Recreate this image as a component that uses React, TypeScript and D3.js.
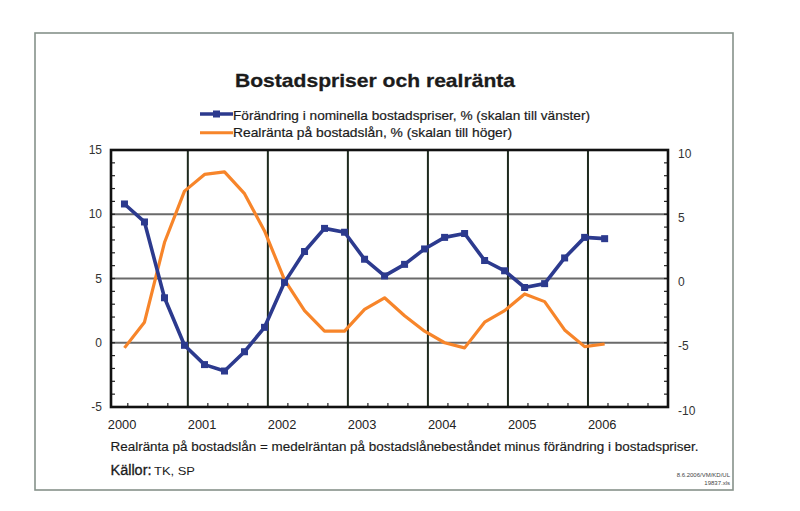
import React from "react";
import * as d3 from "d3";

const quarters = [
  "2000Q1","2000Q2","2000Q3","2000Q4",
  "2001Q1","2001Q2","2001Q3","2001Q4",
  "2002Q1","2002Q2","2002Q3","2002Q4",
  "2003Q1","2003Q2","2003Q3","2003Q4",
  "2004Q1","2004Q2","2004Q3","2004Q4",
  "2005Q1","2005Q2","2005Q3","2005Q4",
  "2006Q1",
];
// Förändring i nominella bostadspriser, % (left scale)
const housePriceChange = [
  10.8, 9.4, 3.5, -0.2,
  -1.7, -2.2, -0.7, 1.2,
  4.7, 7.1, 8.9, 8.6,
  6.5, 5.2, 6.1, 7.3,
  8.2, 8.5, 6.4, 5.6,
  4.3, 4.6, 6.6, 8.2,
  8.1,
];
// Realränta på bostadslån, % (right scale)
const realRate = [
  -5.4, -3.4, 2.8, 6.8,
  8.1, 8.3, 6.6, 3.7,
  -0.1, -2.5, -4.1, -4.1,
  -2.4, -1.5, -2.9, -4.1,
  -5.0, -5.4, -3.4, -2.5,
  -1.2, -1.8, -4.0, -5.3,
  -5.1,
];
const yearLabels = ["2000", "2001", "2002", "2003", "2004", "2005", "2006"];
const leftTicks = [15, 10, 5, 0, -5];
const rightTicks = [10, 5, 0, -5, -10];
const gridValues = [10, 5, 0];

const title = "Bostadspriser och realränta";
const legend1 = "Förändring i nominella bostadspriser, % (skalan till vänster)";
const legend2 = "Realränta på bostadslån, % (skalan till höger)";
const footnote =
  "Realränta på bostadslån = medelräntan på bostadslånebeståndet minus förändring i bostadspriser.";
const sourceLabel = "Källor:";
const sources = "TK, SP";
const stamp1 = "8.6.2006/VM/KD/UL";
const stamp2 = "19837.xls";

const BLUE = "#2c3a8e";
const ORANGE = "#f7852a";
const FONT = "'Liberation Sans', Arial, Helvetica, sans-serif";
const TEXT = "#1b1b1b";

function quarterTime(q: string) {
  const y = +q.slice(0, 4);
  const n = +q.slice(5);
  return y + (3 * n - 0.5) / 12;
}

export default function App() {
  const left = 111, right = 668, top = 150, bottom = 407;
  const x = d3.scaleLinear().domain([2000.04, 2007]).range([left, right]);
  const yL = d3.scaleLinear().domain([-5, 15]).range([bottom, top]);
  const yR = d3.scaleLinear().domain([-10, 10]).range([bottom, top]);

  const times = quarters.map(quarterTime);
  const blueLine = d3
    .line<number>()
    .x((_, i) => x(times[i]))
    .y((d) => yL(d))(housePriceChange) as string;
  const orangeLine = d3
    .line<number>()
    .x((_, i) => x(times[i]))
    .y((d) => yR(d))(realRate) as string;

  const minorLeft = d3.range(-4, 15);
  const minorRight = d3.range(-9, 10);
  const quarterTicks = d3
    .range(0, 28)
    .map((k) => 2000 + k * 0.25)
    .filter((t) => t > 2000.04 && k4(t));
  function k4(t: number) {
    return Math.abs(t - Math.round(t)) > 0.01;
  }
  const yearLines = d3.range(2001, 2007);

  return (
    <svg
      width={800}
      height={511}
      style={{ position: "absolute", left: 0, top: 0, background: "#fff" }}
      fontFamily={FONT}
    >
      <rect x={0} y={0} width={800} height={511} fill="#fff" />
      {/* outer frame */}
      <rect x={35} y={33} width={698} height={457} fill="none" stroke="#86928a" strokeWidth={1.6} />

      {/* title */}
      <text x={235} y={86.5} fontSize={19} fontWeight="bold" fill={TEXT} stroke={TEXT} strokeWidth={0.3} textLength={280} lengthAdjust="spacingAndGlyphs">
        {title}
      </text>

      {/* legend */}
      <line x1={200} x2={233} y1={114} y2={114} stroke={BLUE} strokeWidth={3.5} />
      <rect x={213} y={110.5} width={7} height={7} fill={BLUE} />
      <text x={233} y={119.5} fontSize={13} fill={TEXT} stroke={TEXT} strokeWidth={0.2} textLength={357} lengthAdjust="spacingAndGlyphs">
        {legend1}
      </text>
      <line x1={200} x2={233} y1={132.7} y2={132.7} stroke={ORANGE} strokeWidth={3} />
      <text x={233} y={137} fontSize={13} fill={TEXT} stroke={TEXT} strokeWidth={0.2} textLength={279} lengthAdjust="spacingAndGlyphs">
        {legend2}
      </text>

      {/* horizontal grid */}
      {gridValues.map((v) => (
        <line key={"g" + v} x1={left} x2={right} y1={yL(v)} y2={yL(v)} stroke="#6a6a6a" strokeWidth={1.8} />
      ))}
      {/* year lines */}
      {yearLines.map((yr) => (
        <line key={"v" + yr} x1={x(yr)} x2={x(yr)} y1={top} y2={bottom} stroke="#1d291d" strokeWidth={2} />
      ))}
      {/* minor ticks */}
      {minorLeft.map((v) => (
        <line key={"ml" + v} x1={left} x2={left + 4} y1={yL(v)} y2={yL(v)} stroke="#222" strokeWidth={1.2} />
      ))}
      {minorRight.map((v) => (
        <line key={"mr" + v} x1={right - 4} x2={right} y1={yR(v)} y2={yR(v)} stroke="#222" strokeWidth={1.2} />
      ))}
      {quarterTicks.map((t) => (
        <line key={"q" + t} x1={x(t)} x2={x(t)} y1={bottom - 4} y2={bottom} stroke="#222" strokeWidth={1.2} />
      ))}
      {/* plot frame */}
      <rect x={left} y={top} width={right - left} height={bottom - top} fill="none" stroke="#111" strokeWidth={2.6} />

      {/* series */}
      <path d={orangeLine} fill="none" stroke={ORANGE} strokeWidth={3.2} strokeLinejoin="round" />
      <path d={blueLine} fill="none" stroke={BLUE} strokeWidth={3.6} strokeLinejoin="round" />
      {housePriceChange.map((v, i) => (
        <rect key={"p" + i} x={x(times[i]) - 3.5} y={yL(v) - 3.5} width={7} height={7} fill={BLUE} />
      ))}

      {/* left axis labels */}
      {leftTicks.map((v) => (
        <text key={"lt" + v} x={102} y={yL(v) + 4} fontSize={12} fill="#333" textAnchor="end">
          {v}
        </text>
      ))}
      {/* right axis labels */}
      {rightTicks.map((v) => (
        <text key={"rt" + v} x={678} y={yR(v) + 7.5} fontSize={12} fill="#333" textAnchor="start">
          {v}
        </text>
      ))}
      {/* x labels */}
      {yearLabels.map((yr) => (
        <text key={"x" + yr} x={x(+yr)} y={429} fontSize={12} fill="#222" textLength={28.5} lengthAdjust="spacingAndGlyphs">
          {yr}
        </text>
      ))}

      {/* footnote */}
      <text x={110.5} y={451} fontSize={12} fill={TEXT} stroke={TEXT} strokeWidth={0.15} textLength={588} lengthAdjust="spacingAndGlyphs">
        {footnote}
      </text>
      <text x={110.5} y={475} fontSize={14} fill={TEXT} stroke={TEXT} strokeWidth={0.3} textLength={41} lengthAdjust="spacingAndGlyphs">
        {sourceLabel}
      </text>
      <text x={154} y={475} fontSize={11} fill={TEXT} textLength={41} lengthAdjust="spacingAndGlyphs">
        {sources}
      </text>
      <text x={730} y={477} fontSize={6} fill="#444" textAnchor="end">
        {stamp1}
      </text>
      <text x={730} y={484.5} fontSize={6} fill="#444" textAnchor="end">
        {stamp2}
      </text>
    </svg>
  );
}
